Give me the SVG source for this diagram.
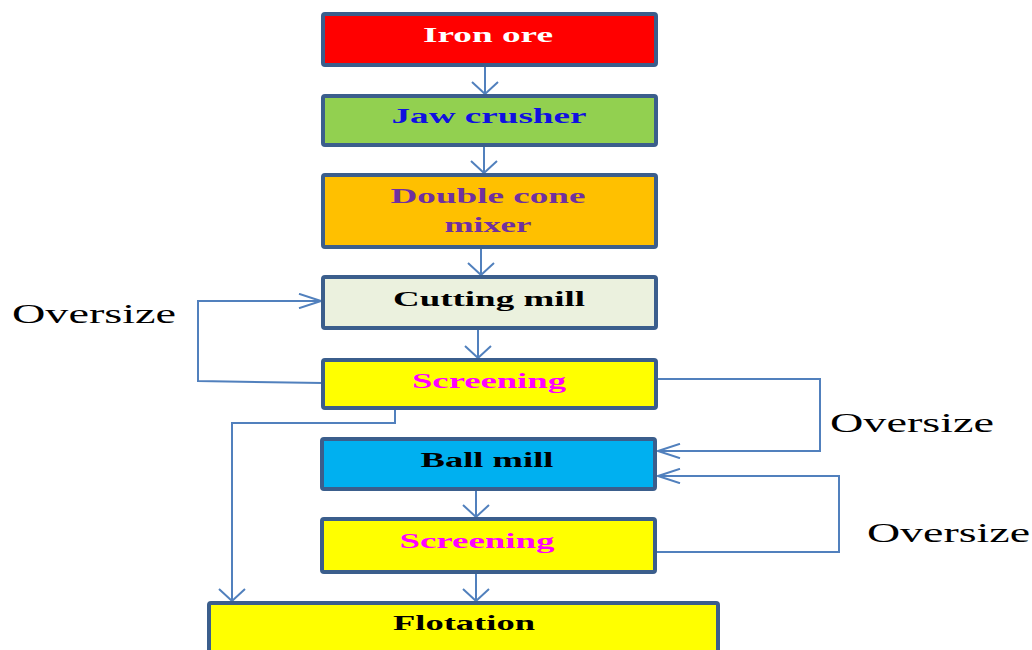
<svg xmlns="http://www.w3.org/2000/svg" width="1032" height="650" viewBox="0 0 1032 650">
<style>
.box{stroke:#3b5e8c;stroke-width:4}
.lbl{font-family:"Liberation Serif",serif;font-weight:bold;font-size:22px;text-anchor:middle}
.ov{font-family:"Liberation Serif",serif;font-size:28px;fill:#000}
.con path{fill:none;stroke:#5180bd;stroke-width:2}
</style>
<defs>
<marker id="av" viewBox="0 0 14 28" refX="13" refY="14" markerWidth="14" markerHeight="28" markerUnits="userSpaceOnUse" orient="auto">
<path d="M1,1 L13,14 L1,27" fill="none" stroke="#5180bd" stroke-width="2"/>
</marker>
<marker id="ah" viewBox="0 0 24 16" refX="23" refY="8" markerWidth="24" markerHeight="16" markerUnits="userSpaceOnUse" orient="auto">
<path d="M1,0.8 L23,8 L1,15.2" fill="none" stroke="#5180bd" stroke-width="2"/>
</marker>
</defs>
<rect width="1032" height="650" fill="#fff"/>
<g class="con">
<path d="M485,66 V94" marker-end="url(#av)"/>
<path d="M484,146 V173" marker-end="url(#av)"/>
<path d="M481,248 V275" marker-end="url(#av)"/>
<path d="M478,328 V358" marker-end="url(#av)"/>
<path d="M476,489 V517" marker-end="url(#av)"/>
<path d="M476,572 V601" marker-end="url(#av)"/>
<path d="M323,383 L198,381 V301 H321" marker-end="url(#ah)"/>
<path d="M395,408 V423 H232 V601" marker-end="url(#av)"/>
<path d="M656,379 H820 V451 H658" marker-end="url(#ah)"/>
<path d="M656,552 H839 V476 H658" marker-end="url(#ah)"/>
</g>
<g id="iron-ore">
<rect class="box" x="323" y="14" width="333" height="51" rx="2" fill="#ff0000"/>
<text class="lbl" x="488" y="42" fill="#ffffff" textLength="130" lengthAdjust="spacingAndGlyphs">Iron ore</text>
</g>
<g id="jaw-crusher">
<rect class="box" x="323" y="96" width="333" height="49" rx="2" fill="#92d050"/>
<text class="lbl" x="489" y="123" fill="#1010e0" textLength="195" lengthAdjust="spacingAndGlyphs">Jaw crusher</text>
</g>
<g id="double-cone-mixer">
<rect class="box" x="323" y="175" width="333" height="72" rx="2" fill="#ffc000"/>
<text class="lbl" x="488" y="203" fill="#7030a0" textLength="195" lengthAdjust="spacingAndGlyphs">Double cone</text>
<text class="lbl" x="488" y="232" fill="#7030a0" textLength="87" lengthAdjust="spacingAndGlyphs">mixer</text>
</g>
<g id="cutting-mill">
<rect class="box" x="323" y="277" width="333" height="51" rx="2" fill="#ebf1de"/>
<text class="lbl" x="489" y="306" fill="#000" textLength="192" lengthAdjust="spacingAndGlyphs">Cutting mill</text>
</g>
<g id="screening-1">
<rect class="box" x="323" y="360" width="333" height="48" rx="2" fill="#ffff00"/>
<text class="lbl" x="489" y="388" fill="#ff00ff" textLength="154" lengthAdjust="spacingAndGlyphs">Screening</text>
</g>
<g id="ball-mill">
<rect class="box" x="322" y="439" width="333" height="50" rx="2" fill="#00b0f0"/>
<text class="lbl" x="487" y="467" fill="#000" textLength="133" lengthAdjust="spacingAndGlyphs">Ball mill</text>
</g>
<g id="screening-2">
<rect class="box" x="322" y="519" width="333" height="53" rx="2" fill="#ffff00"/>
<text class="lbl" x="477" y="548" fill="#ff00ff" textLength="155" lengthAdjust="spacingAndGlyphs">Screening</text>
</g>
<g id="flotation">
<rect class="box" x="209" y="603" width="509" height="60" rx="2" fill="#ffff00"/>
<text class="lbl" x="464" y="630" fill="#000" textLength="142" lengthAdjust="spacingAndGlyphs">Flotation</text>
</g>
<g id="labels">
<text class="ov" x="12" y="323" textLength="164" lengthAdjust="spacingAndGlyphs">Oversize</text>
<text class="ov" x="830" y="432" textLength="164" lengthAdjust="spacingAndGlyphs">Oversize</text>
<text class="ov" x="867" y="542" textLength="163" lengthAdjust="spacingAndGlyphs">Oversize</text>
</g>
</svg>
